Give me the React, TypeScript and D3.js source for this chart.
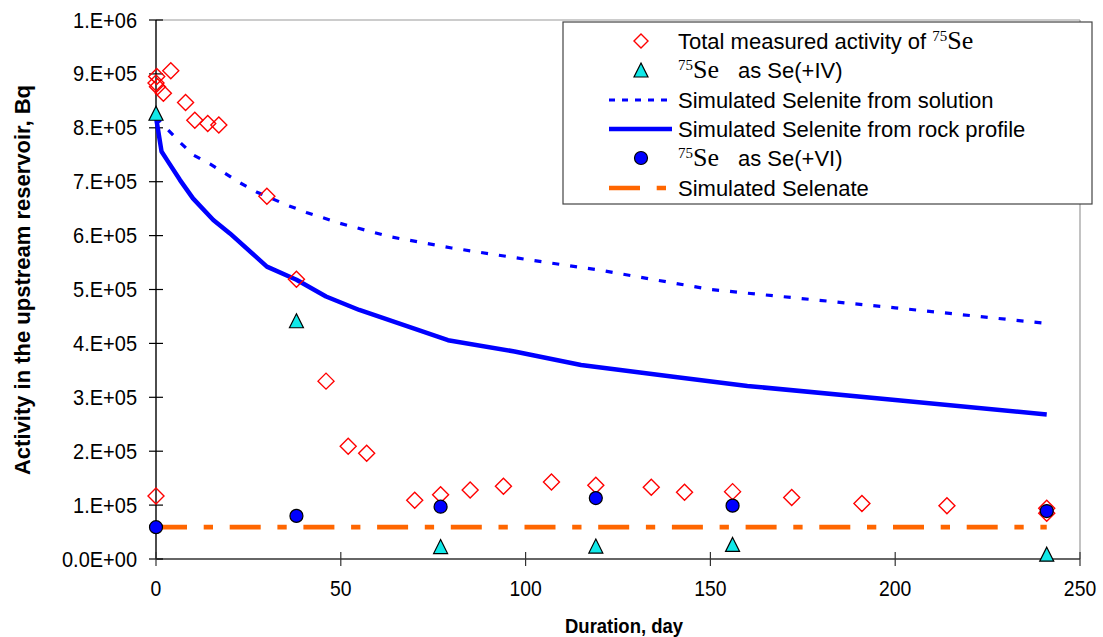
import React from "react";
import * as d3 from "d3";

// Measured total activity of 75Se (days, Bq)
const totalDays = [0, 0, 0.2, 0.4, 2, 4, 8, 10.5, 14, 17, 30, 38, 46, 52, 57, 70, 77, 85, 94, 107, 119, 134, 143, 156, 172, 191, 214, 241, 241];
const totalValues = [117000, 883000, 895000, 876000, 864000, 906000, 847000, 814000, 808000, 805000, 673000, 519000, 330000, 209000, 196000, 109000, 119000, 128000, 135000, 143000, 137000, 133000, 124000, 125000, 114000, 103000, 99000, 94000, 85000];

// 75Se as Se(+IV)
const seIVDays = [0, 38, 77, 119, 156, 241];
const seIVValues = [827000, 442000, 23000, 24000, 27000, 9000];

// 75Se as Se(+VI)
const seVIDays = [0, 38, 77, 119, 156, 241];
const seVIValues = [59000, 80000, 97000, 113000, 99000, 89000];

// Simulated selenite, solution model
const solutionDays = [0, 2.4, 6.5, 10, 14.6, 18.6, 22.7, 27.2, 35.3, 40.7, 49.7, 63.2, 80, 100, 120, 150, 200, 241];
const solutionValues = [820000, 802000, 773000, 750000, 733000, 716000, 698000, 681000, 657000, 643000, 623000, 598000, 577000, 556000, 536000, 500000, 466000, 437000];

// Simulated selenite, rock profile model
const rockDays = [0, 1.5, 3, 6.5, 10, 15.5, 20, 30, 38, 46, 55, 79, 97, 115, 140, 160, 200, 241];
const rockValues = [820000, 756000, 740000, 703000, 669000, 629000, 604000, 542500, 518000, 487000, 462000, 406000, 385000, 360000, 338000, 321000, 295000, 268000];

// Simulated selenate
const selenateDays = [0, 241];
const selenateValues = [59000, 59000];

const yTickValues = [0, 100000, 200000, 300000, 400000, 500000, 600000, 700000, 800000, 900000, 1000000];
const yTickLabels = ["0.0E+00", "1.E+05", "2.E+05", "3.E+05", "4.E+05", "5.E+05", "6.E+05", "7.E+05", "8.E+05", "9.E+05", "1.E+06"];
const xTickValues = [0, 50, 100, 150, 200, 250];
const xTickLabels = ["0", "50", "100", "150", "200", "250"];

const W = 1103;
const H = 637;
const L = 156, R = 1080, T = 20, B = 559;

const SANS = "'Liberation Sans', Arial, sans-serif";
const SERIF = "'Liberation Serif', 'Times New Roman', serif";

const RED = "#ff0000";
const BLUE = "#0000ff";
const CYAN = "#11e8e8";
const ORANGE = "#ff6600";

const x = d3.scaleLinear().domain([0, 250]).range([L, R]);
const y = d3.scaleLinear().domain([0, 1000000]).range([B, T]);

const diamond = (cx: number, cy: number, r: number) =>
  `M${cx},${cy - r}L${cx + r},${cy}L${cx},${cy + r}L${cx - r},${cy}Z`;
const triangle = (cx: number, cy: number, w: number, h: number) =>
  `M${cx},${cy - h / 2}L${cx + w / 2},${cy + h / 2}L${cx - w / 2},${cy + h / 2}Z`;

const lineGen = (days: number[], vals: number[]) =>
  d3.line<number>().x((_, i) => x(days[i])).y((v) => y(v))(vals) || "";

// Horizontally condensed label, anchored at (px, py)
const Narrow = ({ px, py, sx, anchor, size, bold, children }: any) => (
  <text
    transform={`translate(${px},${py}) scale(${sx},1)`}
    textAnchor={anchor}
    fontSize={size}
    fontWeight={bold ? "bold" : "normal"}
  >
    {children}
  </text>
);

const SeLabel = ({ rest }: { rest: string }) => (
  <>
    <tspan fontFamily={SERIF} fontSize={15} dy={-8}>75</tspan>
    <tspan fontFamily={SERIF} fontSize={26} dy={8}>Se</tspan>
    <tspan dx={19}>{rest}</tspan>
  </>
);

export default function App() {
  const legX = 563, legY = 22, legW = 529, legH = 182;
  const rows = [41, 70, 100, 129, 158, 188];
  const symX = 641, txtX = 678;
  const segA = 609, segB = 672;
  const legFont = 22;

  return (
    <svg width={W} height={H} style={{ position: "absolute", left: 0, top: 0, background: "#fff" }} fontFamily={SANS}>
      {/* plot frame */}
      <line x1={L} x2={R} y1={T} y2={T} stroke="#9a9a9a" strokeWidth={1.2} />
      <line x1={R} x2={R} y1={T} y2={B} stroke="#9a9a9a" strokeWidth={1.2} />

      {/* axes */}
      <line x1={L} x2={R} y1={B} y2={B} stroke="#333" strokeWidth={1.4} />
      <line x1={L} x2={L} y1={T} y2={B} stroke="#000" strokeWidth={1.4} />
      {yTickValues.map((v, i) => (
        <g key={`yt${i}`}>
          <line x1={L - 7} x2={L + 7} y1={y(v)} y2={y(v)} stroke="#000" strokeWidth={1.2} />
          <Narrow px={137} py={y(v) + 7.5} sx={0.93} anchor="end" size={21.5}>{yTickLabels[i]}</Narrow>
        </g>
      ))}
      {xTickValues.map((v, i) => (
        <g key={`xt${i}`}>
          <line x1={x(v)} x2={x(v)} y1={B - 7} y2={B + 7} stroke="#333" strokeWidth={1.2} />
          <Narrow px={x(v)} py={596} sx={0.9} anchor="middle" size={21.5}>{xTickLabels[i]}</Narrow>
        </g>
      ))}

      {/* axis titles */}
      <Narrow px={624} py={633} sx={0.88} anchor="middle" size={21} bold>Duration, day</Narrow>
      <text transform={`translate(30,280) rotate(-90)`} textAnchor="middle" fontSize={22} fontWeight="bold">
        Activity in the upstream reservoir, Bq
      </text>

      {/* simulated curves */}
      <path d={lineGen(solutionDays, solutionValues)} fill="none" stroke={BLUE} strokeWidth={3.2} strokeDasharray="7,11" />
      <path d={lineGen(rockDays, rockValues)} fill="none" stroke={BLUE} strokeWidth={4.5} strokeLinejoin="round" />
      <path d={lineGen(selenateDays, selenateValues)} fill="none" stroke={ORANGE} strokeWidth={4.7} strokeDasharray="31,16.7,9.3,16.7" />

      {/* measured points */}
      {totalDays.map((d, i) => (
        <path key={`t${i}`} d={diamond(x(d), y(totalValues[i]), 8)} fill="none" stroke={RED} strokeWidth={1.4} />
      ))}
      {seIVDays.map((d, i) => (
        <path key={`iv${i}`} d={triangle(x(d), y(seIVValues[i]), 14, 14)} fill={CYAN} stroke="#000" strokeWidth={1.2} />
      ))}
      {seVIDays.map((d, i) => (
        <circle key={`vi${i}`} cx={x(d)} cy={y(seVIValues[i])} r={6.5} fill={BLUE} stroke="#000" strokeWidth={1.2} />
      ))}

      {/* legend */}
      <rect x={legX} y={legY} width={legW} height={legH} fill="#fff" stroke="#444" strokeWidth={1.2} />
      <path d={diamond(symX, rows[0], 7)} fill="none" stroke={RED} strokeWidth={1.4} />
      <text x={txtX} y={rows[0] + 8} fontSize={legFont}>
        Total measured activity of <tspan fontFamily={SERIF} fontSize={15} dy={-8}>75</tspan>
        <tspan fontFamily={SERIF} fontSize={26} dy={8}>Se</tspan>
      </text>

      <path d={triangle(symX, rows[1], 14, 14)} fill={CYAN} stroke="#000" strokeWidth={1.2} />
      <text x={txtX} y={rows[1] + 8} fontSize={legFont}><SeLabel rest="as Se(+IV)" /></text>

      <line x1={segA} x2={segB} y1={rows[2]} y2={rows[2]} stroke={BLUE} strokeWidth={3.2} strokeDasharray="6,7" />
      <text x={txtX} y={rows[2] + 8} fontSize={legFont}>Simulated Selenite from solution</text>

      <line x1={segA} x2={segB} y1={rows[3]} y2={rows[3]} stroke={BLUE} strokeWidth={4.5} />
      <text x={txtX} y={rows[3] + 8} fontSize={legFont}>Simulated Selenite from rock profile</text>

      <circle cx={symX} cy={rows[4]} r={6.5} fill={BLUE} stroke="#000" strokeWidth={1.2} />
      <text x={txtX} y={rows[4] + 8} fontSize={legFont}><SeLabel rest="as Se(+VI)" /></text>

      <line x1={segA} x2={segB} y1={rows[5]} y2={rows[5]} stroke={ORANGE} strokeWidth={4.7} strokeDasharray="31,16.7,9.3,16.7" />
      <text x={txtX} y={rows[5] + 8} fontSize={legFont}>Simulated Selenate</text>
    </svg>
  );
}
